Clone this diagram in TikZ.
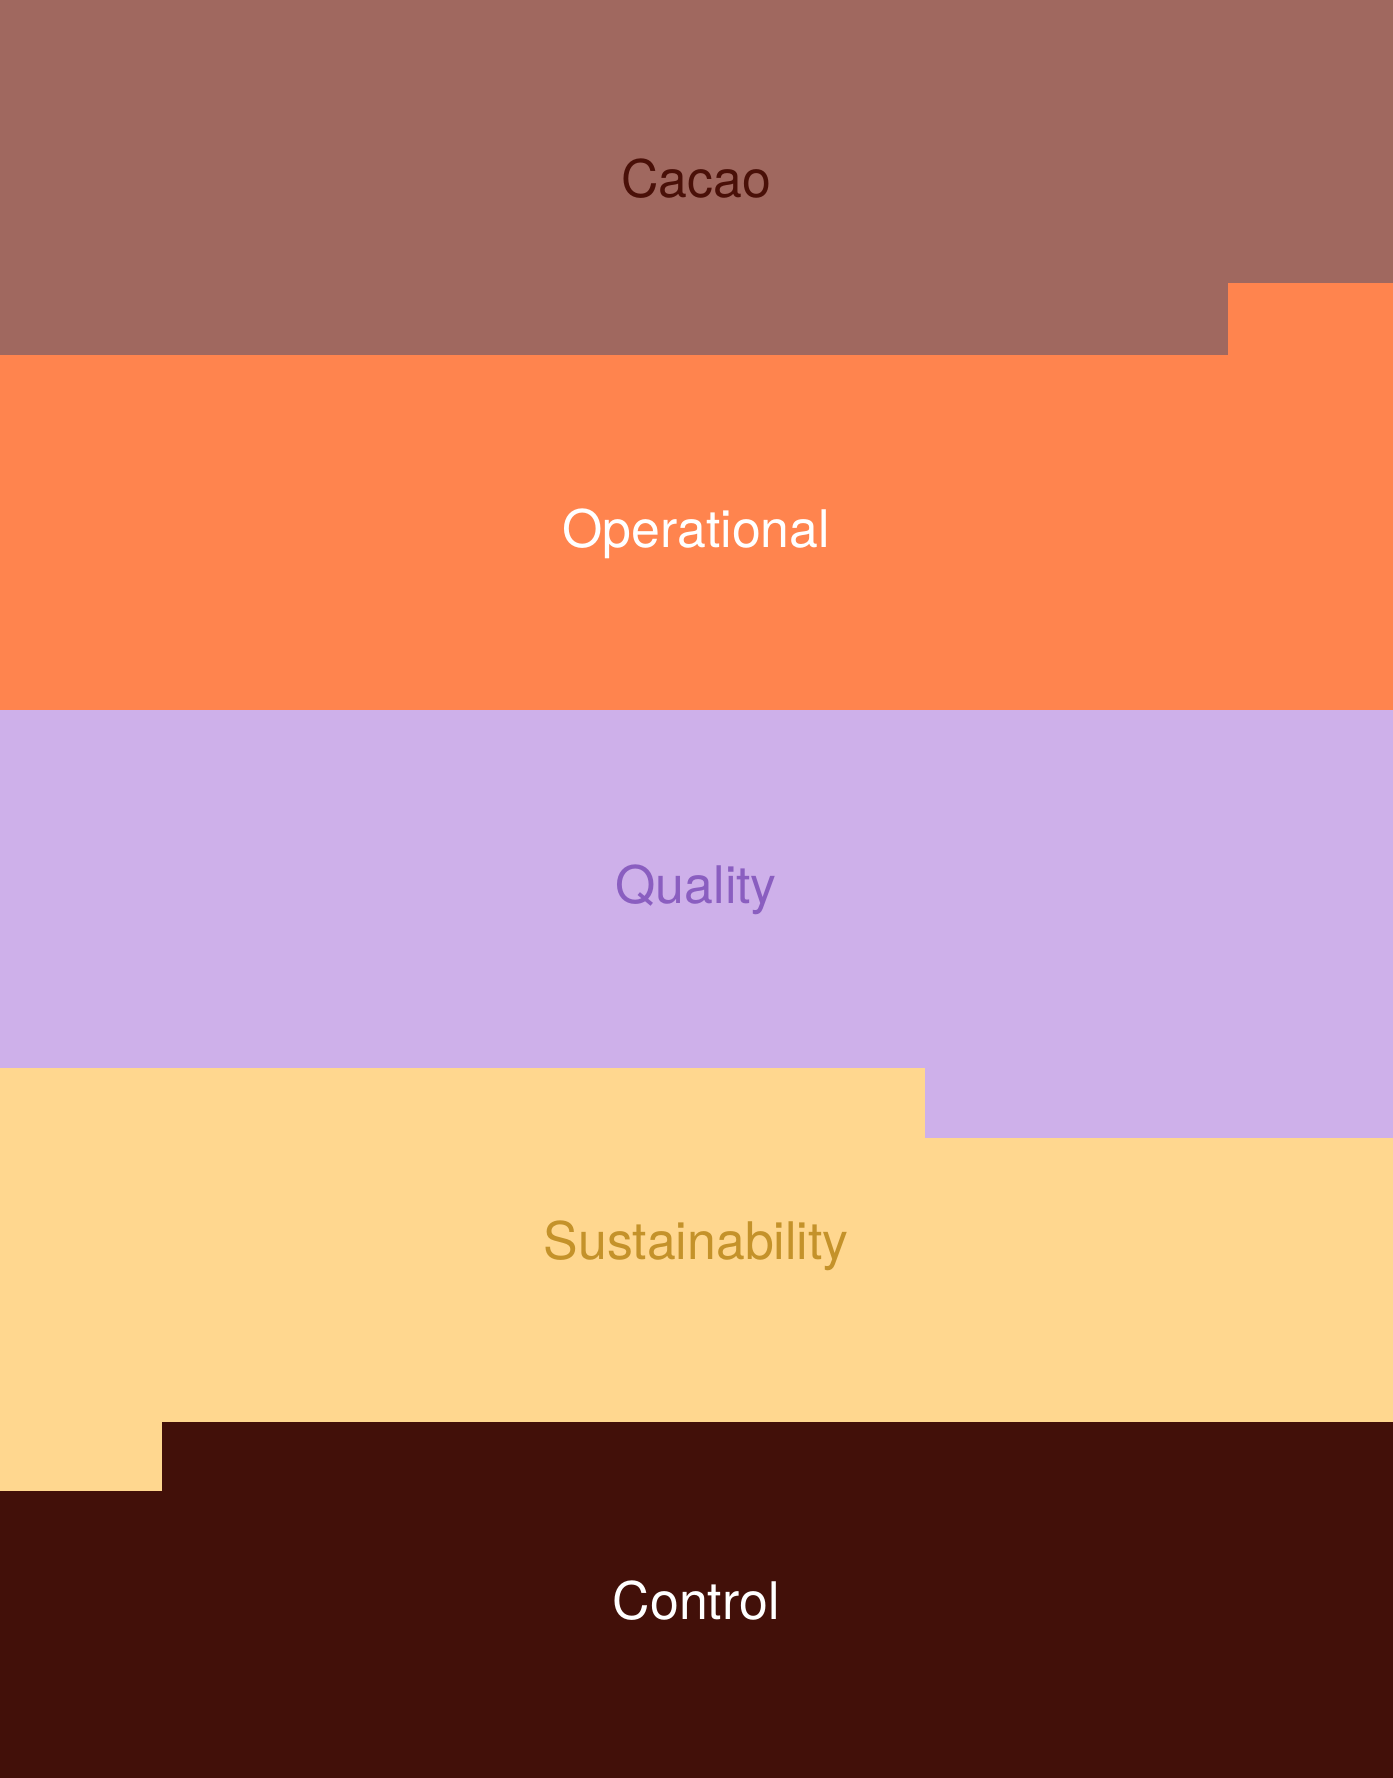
\documentclass[tikz,border=0pt]{standalone}
\usepackage{fontspec}
\setmainfont{TeX Gyre Heros}
\definecolor{cacao}{HTML}{A0685F}
\definecolor{cacaotext}{HTML}{4A1008}
\definecolor{operational}{HTML}{FF844E}
\definecolor{quality}{HTML}{CEB0EA}
\definecolor{qualitytext}{HTML}{8A5EC0}
\definecolor{sustain}{HTML}{FFD78F}
\definecolor{sustaintext}{HTML}{C4922A}
\definecolor{control}{HTML}{421009}
\tikzset{
  bandlabel/.style={font=\fontsize{13}{16}\selectfont, inner sep=0pt}
}
\begin{document}
\begin{tikzpicture}
        \useasboundingbox (0,0) rectangle (12.28,15.68);
        \draw[cacao, fill=cacao] (0,12.544) rectangle (12.28,15.68);
        \draw[operational, fill=operational] (0,9.408) -- (12.28,9.408) -- (12.28,13.18) -- (10.84,13.18) -- (10.84,12.544) -- (0,12.544) -- cycle;
        \draw[sustain, fill=sustain] (0,2.52) rectangle (12.28,6.272);
        \draw[quality, fill=quality] (0,6.272) -- (8.16,6.272) -- (8.16,5.65) -- (12.28,5.65) -- (12.28,9.408) -- (0,9.408) -- cycle;
        \draw[control, fill=control] (0,0) -- (12.28,0) -- (12.28,3.136) -- (1.44,3.136) -- (1.44,2.52) -- (0,2.52) -- cycle;
        \node[bandlabel, text=cacaotext] (cacao) at (6.14,14.105) {Cacao};
        \node[bandlabel, text=white] (operational) at (6.14,10.969) {Operational};
        \node[bandlabel, text=qualitytext] (quality) at (6.14,7.833) {Quality};
        \node[bandlabel, text=sustaintext] (sustain) at (6.14,4.697) {Sustainability};
        \node[bandlabel, text=white] (control) at (6.14,1.561) {Control};
      \end{tikzpicture}
\end{document}
